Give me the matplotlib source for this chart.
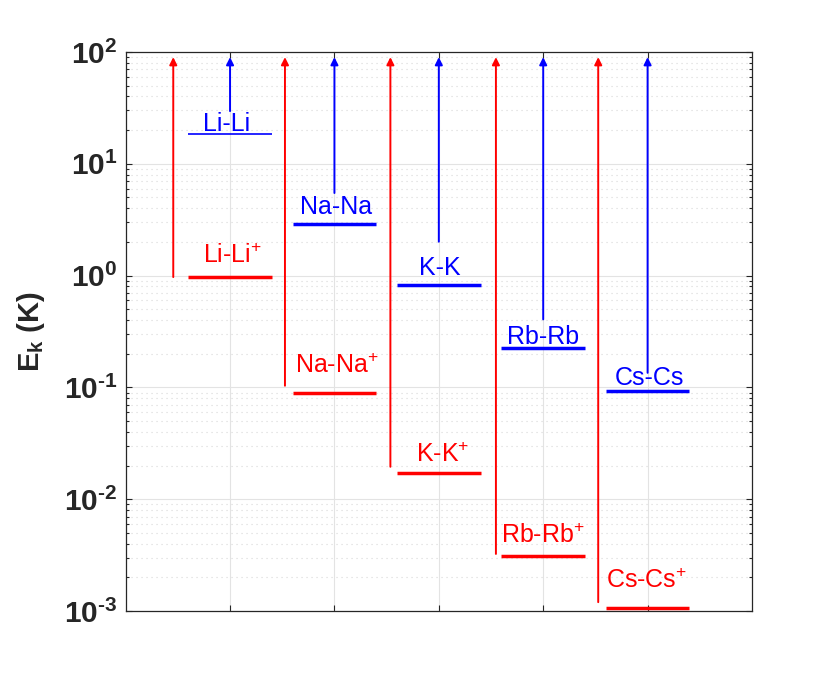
import matplotlib
matplotlib.use("Agg")
import matplotlib.pyplot as plt
from matplotlib.ticker import FixedLocator, FuncFormatter, LogLocator, NullFormatter
import numpy as np

plt.rcParams['font.family'] = ['Liberation Sans', 'DejaVu Sans']
plt.rcParams['mathtext.fontset'] = 'custom'
plt.rcParams['mathtext.rm'] = 'Liberation Sans'
plt.rcParams['mathtext.it'] = 'Liberation Sans:italic'
plt.rcParams['mathtext.bf'] = 'Liberation Sans:bold'

# ---- data ----
species = ['Li', 'Na', 'K', 'Rb', 'Cs']
atom_labels = ['Li-Li', 'Na-Na', 'K-K', 'Rb-Rb', 'Cs-Cs']
ion_labels = ['Li-Li$^{+}$', 'Na-Na$^{+}$', 'K-K$^{+}$', 'Rb-Rb$^{+}$', 'Cs-Cs$^{+}$']
E_atom = [18.6, 2.91, 0.824, 0.226, 0.0923]          # K, atom-atom
E_ion = [0.97, 0.0885, 0.0171, 0.00313, 0.00107]     # K, atom-ion
atom_arrow_start = [29.6, 5.48, 2.01, 0.406, 0.135]
ion_arrow_start = [0.97, 0.1035, 0.0195, 0.00324, 0.0012]
arrow_top = 90.0

# ---- styles / placement ----
ion_arrow_dx = [-0.544, -0.474, -0.464, -0.453, -0.473]
atom_line_lw = [1.2, 2.5, 2.5, 2.5, 2.5]
atom_text_dy = [2.0, 7.0, 7.2, 2.7, 4.5]     # points above line
ion_text_dy = [9.9, 14.4, 7.7, 9.4, 14.0]
atom_text_dx = [-2.3, 1.5, 0.4, -0.2, 1.5]
ion_text_dx = [1.5, 1.5, 2.5, -0.2, -0.5]

fig = plt.figure(figsize=(8.3, 6.87), dpi=100)
ax = fig.add_axes([0.1514, 0.1106, 0.906 - 0.1514, 0.9243 - 0.1106])
ax.set_yscale('log')
ax.set_xlim(0, 6)
ax.set_ylim(1e-3, 1e2)

xs = np.arange(1, len(species) + 1)
half = 0.4
for i, x in enumerate(xs):
    # horizontal levels
    ax.plot([x - half, x + half], [E_atom[i], E_atom[i]], color='blue',
            lw=atom_line_lw[i], solid_capstyle='butt', zorder=3)
    ax.plot([x - half, x + half], [E_ion[i], E_ion[i]], color='red',
            lw=2.5, solid_capstyle='butt', zorder=3)
    # arrows
    ax.annotate('', xy=(x, arrow_top), xytext=(x, atom_arrow_start[i]),
                arrowprops=dict(arrowstyle='-|>', color='blue', lw=1.4,
                                mutation_scale=11, shrinkA=0, shrinkB=0),
                zorder=3)
    xa = x + ion_arrow_dx[i]
    ax.annotate('', xy=(xa, arrow_top), xytext=(xa, ion_arrow_start[i]),
                arrowprops=dict(arrowstyle='-|>', color='red', lw=1.4,
                                mutation_scale=11, shrinkA=0, shrinkB=0),
                zorder=3)
    # labels
    ax.annotate(atom_labels[i], xy=(x, E_atom[i]),
                xytext=(atom_text_dx[i], atom_text_dy[i]), textcoords='offset points',
                ha='center', va='baseline', color='blue', fontsize=18, zorder=4)
    ax.annotate(ion_labels[i], xy=(x, E_ion[i]),
                xytext=(ion_text_dx[i], ion_text_dy[i]), textcoords='offset points',
                ha='center', va='baseline', color='red', fontsize=18, zorder=4)

# axes styling
ax.xaxis.set_major_locator(FixedLocator(xs))
ax.xaxis.set_major_formatter(NullFormatter())
ax.yaxis.set_major_locator(LogLocator(base=10, numticks=10))
ax.yaxis.set_minor_locator(LogLocator(base=10, subs=np.arange(2, 10), numticks=20))
ax.yaxis.set_minor_formatter(NullFormatter())


def fmt(v, pos):
    e = int(round(np.log10(v)))
    es = str(e).replace('-', '\u2010')
    return r'$\mathbf{10^{%s}}$' % es


ax.yaxis.set_major_formatter(FuncFormatter(fmt))
ax.tick_params(axis='both', which='both', direction='in', top=True, right=True,
               colors='#262626', width=0.8)
ax.tick_params(axis='both', which='major', length=4.5, labelsize=21.5, pad=6)
ax.tick_params(axis='both', which='minor', length=2.5)
for lab in ax.get_yticklabels():
    lab.set_fontweight('bold')
for sp in ax.spines.values():
    sp.set_color('#262626')
    sp.set_linewidth(0.9)

ax.grid(True, which='major', axis='both', color='#e3e3e3', lw=0.8, zorder=0)
ax.grid(True, which='minor', axis='y', color='#d8d8d8', lw=0.8, ls=(0, (1, 3.5)), zorder=0)
ax.set_axisbelow(True)

ax.set_ylabel(r'E$_\mathbf{k}$ (K)', fontsize=21, fontweight='bold', color='#262626',
              labelpad=12)

fig.savefig('out.png', dpi=100)
